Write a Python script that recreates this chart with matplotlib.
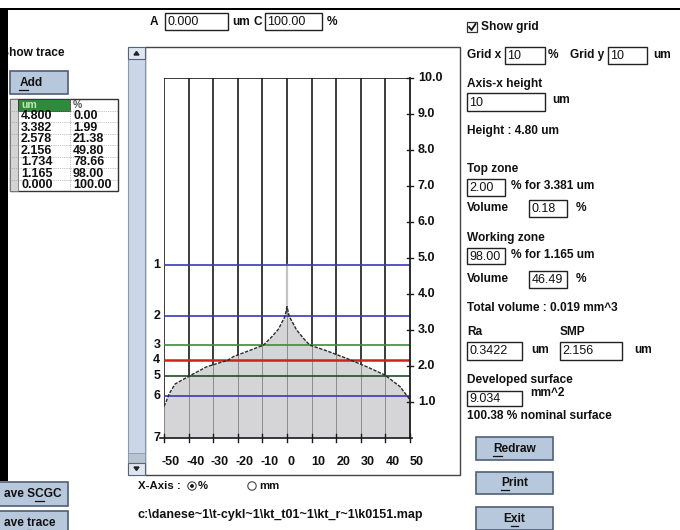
import matplotlib
matplotlib.use('Agg')
import matplotlib.pyplot as plt
from matplotlib.patches import Rectangle, Circle, Polygon
import numpy as np

# Datos de la tabla (altura um, porcentaje de portancia)
alturas = [4.800, 3.382, 2.578, 2.156, 1.734, 1.165, 0.000]
porcentajes = [0.00, 1.99, 21.38, 49.80, 78.66, 98.00, 100.00]
etiquetas_lineas = ['1', '2', '3', '4', '5', '6', '7']
colores_lineas = ['#3a3ab4', '#3a3ab4', '#3c8c3c', '#d02020', '#1f4f26', '#3a3ab4', None]

# Perfil (x en %, h en um), mitad izquierda y derecha
perfil_x_izq = [-50, -49.3, -47.8, -45.5, -39.5, -32.6, -24.0, -21.8, -16.4, -9.6, -6.2, -3.5, -0.8, 0]
perfil_h_izq = [0.88, 0.98, 1.24, 1.50, 1.73, 1.98, 2.16, 2.26, 2.40, 2.58, 2.81, 3.02, 3.38, 3.65]
perfil_x_der = [0, 0.9, 3.9, 7.3, 9.3, 16.2, 24.3, 32.4, 39.8, 45.9, 49.6, 50]
perfil_h_der = [3.65, 3.38, 3.00, 2.72, 2.58, 2.42, 2.21, 1.98, 1.75, 1.43, 1.10, 1.05]

ticks_x = [-50, -40, -30, -20, -10, 0, 10, 20, 30, 40, 50]
ticks_y = [1, 2, 3, 4, 5, 6, 7, 8, 9, 10]

FUENTE = 'Liberation Sans'
fs = 8.6

fig = plt.figure(figsize=(6.8, 5.3), dpi=100)
fig.patch.set_facecolor('white')

# Ejes de la interfaz en pixeles
ui = fig.add_axes([0, 0, 1, 1])
ui.set_xlim(0, 680)
ui.set_ylim(530, 0)
ui.axis('off')


def texto(x, y, s, bold=True, size=fs, ha='left', color='#111111', z=5):
    return ui.text(x, y, s, fontsize=size, fontweight='bold' if bold else 'normal',
                   family=FUENTE, ha=ha, va='center', color=color, zorder=z)


def caja(x0, y0, x1, y1, s=''):
    ui.add_patch(Rectangle((x0, y0), x1 - x0, y1 - y0, facecolor='white',
                           edgecolor='#222222', lw=1.0, zorder=3))
    if s:
        texto(x0 + 2.5, (y0 + y1) / 2 + 0.5, s, bold=False, size=fs + 0.4)


def subrayar(t, idx):
    r = fig.canvas.get_renderer()
    bb = t.get_window_extent(r)
    fp = t.get_fontproperties()
    s = t.get_text()
    w0 = 0
    if idx > 0:
        tmp = ui.text(0, 0, s[:idx], fontproperties=fp)
        w0 = tmp.get_window_extent(r).width
        tmp.remove()
    tmp = ui.text(0, 0, s[:idx + 1], fontproperties=fp)
    w1 = tmp.get_window_extent(r).width
    tmp.remove()
    y = 530 - bb.y0 + 1
    ui.plot([bb.x0 + w0, bb.x0 + w1], [y, y], color='#111111', lw=0.9, zorder=6)


def boton(x0, y0, x1, y1, s, idx=None, ha='center', xt=None):
    ui.add_patch(Rectangle((x0, y0), x1 - x0, y1 - y0, facecolor='#b7c8dc',
                           edgecolor='#4f5f77', lw=1.2, zorder=3))
    if xt is None:
        xt = (x0 + x1) / 2
    t = texto(xt, (y0 + y1) / 2, s, ha=ha)
    if idx is not None:
        subrayar(t, idx)


# Marco negro de la captura
ui.add_patch(Rectangle((0, 7.5), 680, 2.5, facecolor='black', lw=0, zorder=8))
ui.add_patch(Rectangle((0, 7.5), 8, 473, facecolor='black', lw=0, zorder=8))

# Panel izquierdo
texto(1, 53, 'Show trace')
boton(10, 71, 68, 94, 'Add', idx=0, xt=31)

tx0, tx1, tx2, tx3 = 10, 18, 70, 118
fila = 11.5
ty0 = 99
ui.add_patch(Rectangle((tx0, ty0), tx3 - tx0, fila * 8, facecolor='white',
                       edgecolor='#333333', lw=1.0, zorder=3))
ui.add_patch(Rectangle((tx0, ty0), tx1 - tx0, fila * 8, facecolor='#d4d4d4',
                       edgecolor='#777777', lw=0.6, zorder=3))
ui.add_patch(Rectangle((tx1, ty0), tx2 - tx1, fila, facecolor='#2f8a3a',
                       edgecolor='#333333', lw=0.6, zorder=3))
texto(tx1 + 3, ty0 + fila / 2, 'um', color='#bfe8b8', size=fs - 1)
texto(tx2 + 3, ty0 + fila / 2, '%', color='#555555', size=fs - 1)
for i in range(1, 8):
    ui.plot([tx0, tx3], [ty0 + fila * i, ty0 + fila * i], color='#888888', lw=0.5, ls=':', zorder=4)
ui.plot([tx2, tx2], [ty0, ty0 + fila * 8], color='#888888', lw=0.5, ls=':', zorder=4)
for i, (h, p) in enumerate(zip(alturas, porcentajes)):
    yc = ty0 + fila * (i + 1.5)
    texto(tx1 + 3, yc, f'{h:.3f}', size=fs + 0.4)
    texto(tx2 + 3, yc, f'{p:.2f}', size=fs + 0.4)

boton(-30, 482, 68, 506, 'ave SCGC', idx=5, ha='left', xt=4)
boton(-30, 511, 68, 534, 'ave trace', idx=4, ha='left', xt=4)

# Campos A y C
texto(150, 22, 'A')
caja(165, 13, 228, 30, '0.000')
texto(232, 22, 'um')
texto(253, 22, 'C')
caja(265, 13, 322, 30, '100.00')
texto(327, 22, '%')

# Panel del grafico y barra de desplazamiento
ui.add_patch(Rectangle((145, 47), 315, 428, facecolor='white', edgecolor='#444444', lw=1.0, zorder=1))
ui.add_patch(Rectangle((128, 47), 17, 428, facecolor='#cbd7e8', edgecolor='#8899aa', lw=0.8, zorder=2))
ui.add_patch(Rectangle((128, 47), 17, 12, facecolor='#dfe6f0', edgecolor='#556677', lw=0.8, zorder=3))
ui.add_patch(Rectangle((128, 453), 17, 10, facecolor='#b9c4d2', edgecolor='#8899aa', lw=0.6, zorder=3))
ui.add_patch(Rectangle((128, 463), 17, 12, facecolor='#dfe6f0', edgecolor='#556677', lw=0.8, zorder=3))
ui.add_patch(Polygon([[134, 55], [139, 55], [136.5, 51.5]], closed=True, color='#222222', zorder=4))
ui.add_patch(Polygon([[134, 467], [139, 467], [136.5, 470.5]], closed=True, color='#222222', zorder=4))

# Eje X y ruta
texto(138, 486, 'X-Axis :', size=fs - 0.4)
ui.add_patch(Circle((192, 486), 4.2, facecolor='white', edgecolor='#444444', lw=0.8, zorder=4))
ui.add_patch(Circle((192, 486), 1.9, facecolor='#111111', lw=0, zorder=5))
texto(198, 486, '%', size=fs - 0.4)
ui.add_patch(Circle((252, 486), 4.2, facecolor='white', edgecolor='#444444', lw=0.8, zorder=4))
texto(259, 486, 'mm', size=fs - 0.4)
texto(138, 515, 'c:\\danese~1\\t-cykl~1\\kt_t01~1\\kt_r~1\\k0151.map', size=fs + 0.4)

# Panel derecho
ui.add_patch(Rectangle((467, 22), 10, 10, facecolor='white', edgecolor='#333333', lw=0.9, zorder=4))
ui.plot([469, 471.5, 475.5], [27, 30, 24], color='#111111', lw=1.3, zorder=5)
texto(481, 27, 'Show grid')

texto(467, 55, 'Grid x')
caja(505, 47, 545, 64, '10')
texto(548, 55, '%')
texto(570, 55, 'Grid y')
caja(608, 47, 647, 64, '10')
texto(653, 55, 'um')

texto(467, 84, 'Axis-x height')
caja(467, 93, 545, 111, '10')
texto(552, 100, 'um')
texto(467, 131, 'Height : 4.80 um')

texto(467, 169, 'Top zone')
caja(467, 179, 505, 196, '2.00')
texto(511, 186, '% for 3.381 um')
texto(467, 208, 'Volume')
caja(529, 200, 567, 217, '0.18')
texto(576, 208, '%')

texto(467, 238, 'Working zone')
caja(467, 248, 505, 264, '98.00')
texto(511, 255, '% for 1.165 um')
texto(467, 279, 'Volume')
caja(529, 271, 567, 288, '46.49')
texto(576, 279, '%')

texto(467, 308, 'Total volume : 0.019 mm^3')
texto(467, 332, 'Ra')
texto(560, 332, 'SMP')
caja(467, 342, 522, 360, '0.3422')
texto(531, 350, 'um')
caja(560, 342, 622, 360, '2.156')
texto(634, 350, 'um')

texto(467, 380, 'Developed surface')
caja(467, 391, 522, 406, '9.034')
texto(530, 393, 'mm^2')
texto(467, 416, '100.38 % nominal surface')

boton(476, 437, 553, 460, 'Redraw', idx=0)
boton(476, 472, 553, 494, 'Print', idx=0)
boton(476, 507, 553, 530, 'Exit', idx=1)

# Grafico de la curva de portancia
ax = fig.add_axes([164 / 680, (530 - 438) / 530, 246 / 680, 360 / 530])
ax.set_xlim(-50, 50)
ax.set_ylim(0, 10)
ax.axis('off')
ax.patch.set_alpha(0)

px = np.array(perfil_x_izq + perfil_x_der[1:])
ph = np.array(perfil_h_izq + perfil_h_der[1:])

# rejilla vertical
for xv in ticks_x[:-1]:
    ax.plot([xv, xv], [0, 10], color='#1a1a1a', lw=1.2, zorder=2)
ax.plot([-50, 50], [10, 10], color='#1a1a1a', lw=1.2, zorder=2)

# relleno bajo la curva
poly = ax.fill_between(px, 0, ph, color='#d5d5d8', lw=0, zorder=3)
for xv in ticks_x[1:-1]:
    ln, = ax.plot([xv, xv], [0, 10], color='#8c8c8c', lw=0.7, zorder=4)
    ln.set_clip_path(poly.get_paths()[0], ax.transData)
ax.plot([0, 0], [ph.max(), alturas[0]], color='#c4c4c4', lw=1.6, zorder=4)

ax.plot(px, ph, color='#2a2a2a', lw=1.0, ls=(0, (2.5, 1)), zorder=6)

# lineas horizontales de la tabla
for h, c, et in zip(alturas, colores_lineas, etiquetas_lineas):
    if c is not None:
        ax.plot([-50, 50], [h, h], color=c, lw=1.8 if c == '#d02020' else 1.2, zorder=5)
    ax.text(-51.5, h, et, ha='right', va='center', fontsize=fs + 0.4, fontweight='bold',
            family=FUENTE, color='#111111', clip_on=False)

# eje inferior y eje derecho
ax.plot([-51.5, 50.8], [0, 0], color='#1a1a1a', lw=1.2, zorder=7, clip_on=False)
ax.plot([50, 50], [0, 10], color='#1a1a1a', lw=1.3, zorder=7, clip_on=False)
for xv in ticks_x:
    ax.plot([xv, xv], [-0.1, 0.12], color='#1a1a1a', lw=1.0, zorder=7, clip_on=False)
    ax.text(xv - (0.9 if xv < 0 else 0), -0.67, str(xv), ha='left', va='center',
            fontsize=fs + 0.4, fontweight='bold', family=FUENTE, color='#111111', clip_on=False)
for yv in ticks_y:
    ax.plot([48.6, 51.4], [yv, yv], color='#1a1a1a', lw=1.0, zorder=7, clip_on=False)
    ax.text(53.2, yv, f'{yv:.1f}', ha='left', va='center', fontsize=fs + 0.4,
            fontweight='bold', family=FUENTE, color='#111111', clip_on=False)

plt.savefig('out.png', dpi=100)
